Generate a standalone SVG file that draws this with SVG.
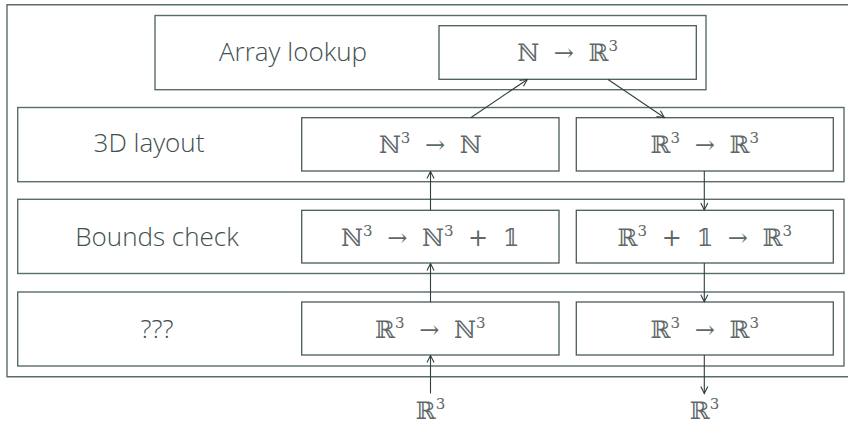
<svg xmlns="http://www.w3.org/2000/svg" width="848" height="426" viewBox="0 0 848 426">
  <defs>
    <marker id="tip" viewBox="0 0 10 10" refX="9" refY="5" markerWidth="10" markerHeight="10" markerUnits="userSpaceOnUse" orient="auto">
      <path d="M2,1.5 L9,5 L2,8.5" fill="none" stroke="#2f3f3f" stroke-width="1.1"/>
    </marker>
  </defs>
  <style>
    .frame { fill: none; stroke: #5b6b6b; stroke-width: 1.4; }
    .box { fill: #ffffff; stroke: #4a5a5a; stroke-width: 1.3; }
    .label { font-family: "Open Sans", "Liberation Sans", sans-serif; font-weight: 300; font-size: 26px; fill: #3f5050; text-anchor: middle; }
    .math { font-family: "DejaVu Serif", "Liberation Serif", serif; font-size: 24px; fill: #5f6868; text-anchor: middle; word-spacing: 7px; }
    .sup { font-size: 15px; }
    .edge { fill: none; stroke: #2f3f3f; stroke-width: 1.1; marker-end: url(#tip); }
  </style>
  <rect width="848" height="426" fill="#ffffff"/>

  <!-- outer frame, open on the right -->
  <path class="frame" d="M852,4.7 H7 V376.7 H852"/>

  <g id="array-lookup">
    <rect class="frame" x="155" y="15.5" width="551" height="74.2"/>
    <text class="label" x="293" y="61">Array lookup</text>
    <g id="lookup">
      <rect class="box" x="439" y="25.7" width="257.3" height="53.6"/>
      <text class="math" x="567.6" y="61">ℕ → ℝ<tspan class="sup" dy="-10">3</tspan></text>
    </g>
  </g>

  <g id="layout-3d">
    <rect class="frame" x="17.7" y="107.5" width="826.3" height="74.2"/>
    <text class="label" x="149" y="152">3D layout</text>
    <g id="layout-in">
      <rect class="box" x="301.7" y="117.7" width="257.3" height="53.3"/>
      <text class="math" x="430.3" y="153">ℕ<tspan class="sup" dy="-10">3</tspan><tspan dy="10"> → ℕ</tspan></text>
    </g>
    <g id="layout-out">
      <rect class="box" x="576.3" y="117.7" width="257" height="53.3"/>
      <text class="math" x="704.8" y="153">ℝ<tspan class="sup" dy="-10">3</tspan><tspan dy="10"> → ℝ</tspan><tspan class="sup" dy="-10">3</tspan></text>
    </g>
  </g>

  <g id="bounds-check">
    <rect class="frame" x="17.7" y="199.3" width="826.3" height="74.2"/>
    <text class="label" x="157" y="246">Bounds check</text>
    <g id="bounds-in">
      <rect class="box" x="301.7" y="210.3" width="257.3" height="52.7"/>
      <text class="math" x="430.3" y="246">ℕ<tspan class="sup" dy="-10">3</tspan><tspan dy="10"> → ℕ</tspan><tspan class="sup" dy="-10">3</tspan><tspan dy="10"> + 𝟙</tspan></text>
    </g>
    <g id="bounds-out">
      <rect class="box" x="576.3" y="210.3" width="257" height="52.7"/>
      <text class="math" x="704.8" y="246">ℝ<tspan class="sup" dy="-10">3</tspan><tspan dy="10"> + 𝟙 → ℝ</tspan><tspan class="sup" dy="-10">3</tspan></text>
    </g>
  </g>

  <g id="unknown">
    <rect class="frame" x="17.7" y="292" width="826.3" height="74"/>
    <text class="label" x="157" y="338">???</text>
    <g id="unknown-in">
      <rect class="box" x="301.7" y="302" width="257.3" height="53"/>
      <text class="math" x="430.3" y="338">ℝ<tspan class="sup" dy="-10">3</tspan><tspan dy="10"> → ℕ</tspan><tspan class="sup" dy="-10">3</tspan></text>
    </g>
    <g id="unknown-out">
      <rect class="box" x="576.3" y="302" width="257" height="53"/>
      <text class="math" x="704.8" y="338">ℝ<tspan class="sup" dy="-10">3</tspan><tspan dy="10"> → ℝ</tspan><tspan class="sup" dy="-10">3</tspan></text>
    </g>
  </g>

  <g id="input">
    <text class="math" x="430.5" y="419">ℝ<tspan class="sup" dy="-10">3</tspan></text>
  </g>
  <g id="output">
    <text class="math" x="704.5" y="419">ℝ<tspan class="sup" dy="-10">3</tspan></text>
  </g>

  <g id="connectors">
    <line class="edge" x1="430.5" y1="393.5" x2="430.5" y2="355.5"/>
    <line class="edge" x1="430.5" y1="302" x2="430.5" y2="263.5"/>
    <line class="edge" x1="430.5" y1="210.3" x2="430.5" y2="171.5"/>
    <line class="edge" x1="470.7" y1="117.7" x2="527.3" y2="79.5"/>
    <line class="edge" x1="607.7" y1="79.3" x2="664.3" y2="117.5"/>
    <line class="edge" x1="704.3" y1="171" x2="704.3" y2="210"/>
    <line class="edge" x1="704.3" y1="263" x2="704.3" y2="301.8"/>
    <line class="edge" x1="704.3" y1="355" x2="704.3" y2="393.5"/>
  </g>
</svg>
